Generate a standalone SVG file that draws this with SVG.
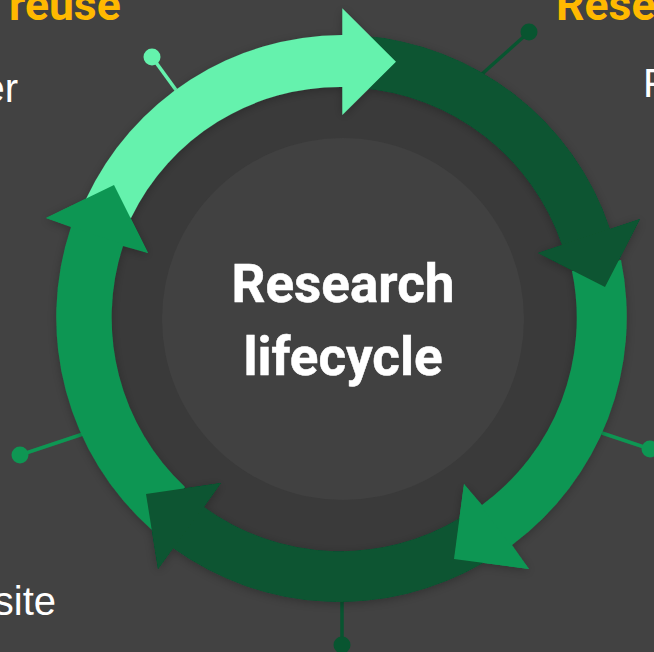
<svg xmlns="http://www.w3.org/2000/svg" width="654" height="652" viewBox="0 0 654 652">
<style>
.head{font-family:Roboto,"Liberation Sans",sans-serif;font-weight:700;font-size:44.5px;fill:#ffb900}
.body{font-family:"Liberation Sans",Arial,sans-serif;font-size:40px;fill:#fff}
.title{font-family:Roboto,"Liberation Sans",sans-serif;font-weight:700;font-size:53px;fill:#fff;text-anchor:middle;stroke:#fff;stroke-width:.5}
.stem{stroke-width:3.5;fill:none}
.light{fill:#65f2ad}.mid{fill:#0e9653}.dark{fill:#085530}
</style>
<defs>
<filter id="sh" x="-20%" y="-20%" width="140%" height="140%"><feDropShadow dx="0" dy="2" stdDeviation="5" flood-color="#000" flood-opacity="0.25"/></filter>
</defs>
<rect width="654" height="652" fill="#424242"/>
<g id="labels">
<text class="head" x="9" y="20">reuse</text>
<text class="head" x="556" y="20">Rese</text>
<text class="body" x="18" y="102" text-anchor="end">er</text>
<text class="body" x="643" y="97">F</text>
<text class="body" x="56" y="615" text-anchor="end">site</text>
</g>
<g id="connectors">
<g id="stem-reuse"><line class="stem" x1="152" y1="57" x2="176" y2="90" stroke="#65f2ad"/><circle class="light" cx="152" cy="57" r="8.5"/></g>
<g id="stem-research"><line class="stem" x1="529" y1="32" x2="482" y2="74" stroke="#085530"/><circle class="dark" cx="529" cy="32" r="8.5"/></g>
<g id="stem-right"><line class="stem" x1="650" y1="449" x2="602" y2="433" stroke="#0e9653"/><circle class="mid" cx="650" cy="449" r="8.5"/></g>
<g id="stem-bottom"><line class="stem" x1="342" y1="645" x2="342" y2="598" stroke="#085530"/><circle class="dark" cx="342" cy="645" r="8.5"/></g>
<g id="stem-left"><line class="stem" x1="20" y1="455" x2="83" y2="434" stroke="#0e9653"/><circle class="mid" cx="20" cy="455" r="8.5"/></g>
</g>
<circle id="ring" cx="342" cy="319" r="258" fill="#3a3a3a"/>
<g id="center"><circle cx="343" cy="319" r="181" fill="#414141"/>
<text class="title" x="343" y="302">Research</text>
<text class="title" x="343" y="375">lifecycle</text></g>
<g id="arrows" filter="url(#sh)">
<path id="seg-dark-top" class="dark" d="M360 35.5A284 284 0 0 1 610 229L640 219L605 287L538 253L562 245A232 232 0 0 0 360 88Z"/>
<path id="seg-mid-right" class="mid" d="M621 260A284 284 0 0 1 512 545L529 569L454 559L464 484L482 505A232 232 0 0 0 572 271Z"/>
<path id="seg-dark-bottom" class="dark" d="M483 563A284 284 0 0 1 173 548L158 569L146 494L221 483L204 507A232 232 0 0 0 460 518Z"/>
<path id="seg-mid-left" class="mid" d="M152 530A284 284 0 0 1 71 227L46 218L114 185L148 253L123 246A232 232 0 0 0 185 487Z"/>
<path id="seg-light" class="light" d="M86 199A284 284 0 0 1 342.3 35V8.3L396 61.7L342.3 115V87A232 232 0 0 0 131 218Z"/>
<path id="head-dark-top" class="dark" d="M640 219L605 287L538 253Z"/>
<path id="head-mid-right" class="mid" d="M529 569L454 559L464 484Z"/>
<path id="head-dark-bottom" class="dark" d="M158 569L146 494L221 483Z"/>
<path id="head-mid-left" class="mid" d="M46 218L114 185L148 253Z"/>
</g>
</svg>
